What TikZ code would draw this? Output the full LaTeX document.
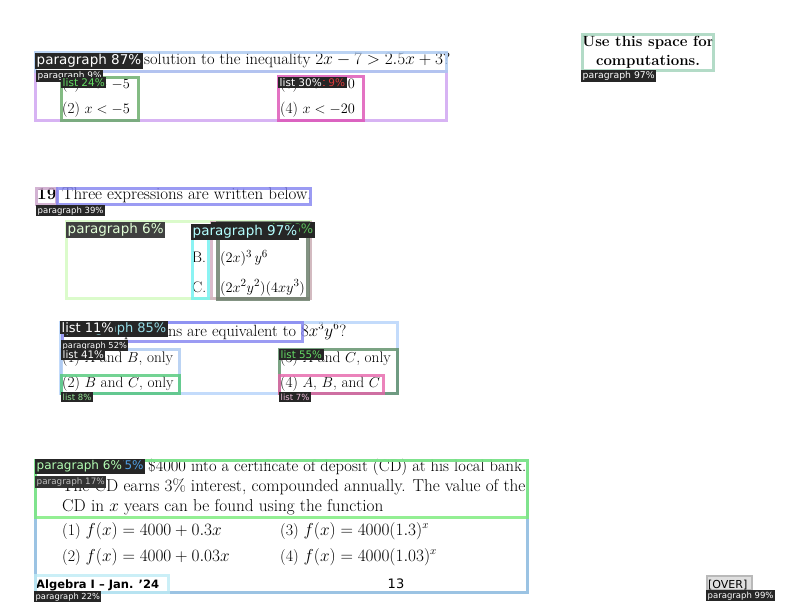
\documentclass[tikz,border=0pt]{standalone}
\usepackage{fontspec}
\newfontfamily\lab{DejaVu Sans}
\definecolor{cLblue}{RGB}{170,200,240}
\definecolor{cPurple}{RGB}{205,160,240}
\definecolor{cGreenA}{RGB}{100,170,100}
\definecolor{cPink}{RGB}{220,80,180}
\definecolor{cSea}{RGB}{160,210,185}
\definecolor{cMauve}{RGB}{200,160,200}
\definecolor{cViolet}{RGB}{130,130,240}
\definecolor{cPale}{RGB}{210,250,190}
\definecolor{cCyan}{RGB}{110,240,240}
\definecolor{cRose}{RGB}{210,170,190}
\definecolor{cDark}{RGB}{100,120,100}
\definecolor{cSky}{RGB}{180,210,250}
\definecolor{cGreenB}{RGB}{80,200,120}
\definecolor{cGreenC}{RGB}{90,140,100}
\definecolor{cPinkB}{RGB}{230,100,170}
\definecolor{cGreenD}{RGB}{120,235,120}
\definecolor{cSteel}{RGB}{130,180,220}
\definecolor{cIce}{RGB}{190,235,245}
\definecolor{tGreen}{RGB}{100,220,100}
\definecolor{tRed}{RGB}{220,60,60}
\definecolor{tPale}{RGB}{225,255,215}
\definecolor{tCyan}{RGB}{180,255,255}
\definecolor{tGreenDim}{RGB}{90,190,90}
\definecolor{tCyanB}{RGB}{150,220,230}
\definecolor{tGreenL}{RGB}{150,230,150}
\definecolor{tPink}{RGB}{240,190,220}
\definecolor{tLime}{RGB}{180,255,180}
\definecolor{tBlue}{RGB}{80,160,230}
\definecolor{tGray}{RGB}{190,190,190}
\tikzset{
  txt/.style={anchor=base west, inner sep=0pt, font=\fontsize{17}{20}\selectfont},
  opt/.style={anchor=base west, inner sep=0pt, font=\fontsize{15.3}{18}\selectfont},
  fopt/.style={anchor=base west, inner sep=0pt, font=\fontsize{16}{19}\selectfont},
  box/.style={draw=#1, line width=3pt, draw opacity=0.8},
  lbl/.style={anchor=north west, fill=black!85, inner xsep=1.5pt, inner ysep=1.5pt,
    font=\lab\fontsize{#1}{#1}\selectfont, text=white},
}
\begin{document}
\begin{tikzpicture}[x=1pt,y=-1pt]
\useasboundingbox[fill=white] (0,0) rectangle (792,612);

% ---------- texts ----------
\node[txt, font=\fontsize{16.5}{20}\selectfont] (q18) at (144,65) {solution to the inequality $2x - 7 > 2.5x + 3$?};
\node[opt] (q18a) at (62,89) {(1) $x > -5$};
\node[opt] (q18b) at (62,114) {(2) $x < -5$};
\node[opt] (q18c) at (280,89) {(3) $x > -20$};
\node[opt] (q18d) at (280,114) {(4) $x < -20$};

\node[anchor=base, inner sep=0pt, font=\bfseries\fontsize{15}{18}\selectfont] (use1) at (648,47) {Use this space for};
\node[anchor=base, inner sep=0pt, font=\bfseries\fontsize{15}{18}\selectfont] (use2) at (648,66) {computations.};

\node[txt] (n19) at (37,200) {\textbf{19}};
\node[txt] (q19) at (62,200) {Three expressions are written below.};
\node[opt] (b19) at (192,263) {B.};
\node[opt] (eb) at (220,263) {$(2x)^3\,y^6$};
\node[opt] (c19) at (192,292) {C.};
\node[opt] (ec) at (220,292) {$(2x^2y^2)(4xy^3)$};
\node[txt, font=\fontsize{16.3}{20}\selectfont] (q19q) at (62,336) {Which expressions are equivalent to $8x^3y^6$?};
\node[opt] (o1) at (62,362) {(1) $A$ and $B$, only};
\node[opt] (o2) at (62,387) {(2) $B$ and $C$, only};
\node[opt] (o3) at (280,362) {(3) $A$ and $C$, only};
\node[opt] (o4) at (280,387) {(4) $A$, $B$, and $C$};

\node[txt, font=\fontsize{16.5}{20}\selectfont] (p1) at (148,471) {\$4000 into a certificate of deposit (CD) at his local bank.};
\node[txt, font=\fontsize{17.2}{20}\selectfont] (p2) at (62,491) {The CD earns 3\% interest, compounded annually. The value of the};
\node[txt, font=\fontsize{17.2}{20}\selectfont] (p3) at (62,511) {CD in $x$ years can be found using the function};
\node[fopt] (f1) at (62,535) {(1) $f(x) = 4000 + 0.3x$};
\node[fopt] (f3) at (280,535) {(3) $f(x) = 4000(1.3)^x$};
\node[fopt] (f2) at (62,561) {(2) $f(x) = 4000 + 0.03x$};
\node[fopt] (f4) at (280,561) {(4) $f(x) = 4000(1.03)^x$};

\node[anchor=base west, inner sep=0pt, font=\lab\bfseries\fontsize{11.5}{13}\selectfont] (foot) at (36,588) {Algebra I – Jan. ’24};
\node[anchor=base, inner sep=0pt, font=\lab\fontsize{13}{14}\selectfont] (page) at (396,588) {13};
\draw[draw=gray!55, fill=gray!25, line width=1.5pt] (707,576) rectangle (752,590);
\node[anchor=base west, inner sep=0pt, font=\lab\fontsize{11}{12}\selectfont] (over) at (708,588) {[OVER]};

% ---------- boxes ----------
\draw[box=cPurple] (35,72) rectangle (446,121);
\draw[box=cLblue] (35,53) rectangle (446,72);
\draw[box=cGreenA] (61,78) rectangle (138,121);
\draw[box=cPink] (278,77) rectangle (363,121);
\draw[box=cSea] (582,35) rectangle (713,71);

\draw[box=cMauve] (36,189) rectangle (56,205);
\draw[box=cViolet] (57,189) rectangle (310,205);
\draw[box=cPale] (66,222) rectangle (310,298);
\draw[box=cCyan] (192,226) rectangle (208,298);
\draw[box=cRose] (211,223) rectangle (310,298);
\draw[box=cDark, line width=3.5pt] (218,223) rectangle (308,299);

\draw[box=cSky] (60,322) rectangle (397,393);
\draw[box=cViolet] (62,322) rectangle (302,341);
\draw[box=cLblue] (61,349) rectangle (179,393);
\draw[box=cGreenB] (61,375) rectangle (179,393);
\draw[box=cGreenC] (279,349) rectangle (397,393);
\draw[box=cPinkB] (279,375) rectangle (383,393);

\draw[box=cSteel] (35,460) rectangle (527,592);
\draw[box=cGreenD] (35,460) rectangle (527,517);
\draw[box=cIce] (35,575) rectangle (168,592);

% ---------- labels ----------
\node[lbl=13.5] (l1) at (35,53) {paragraph 87\%};
\node[lbl=9] (l2) at (36,70) {paragraph 9\%};
\node[lbl=10.5, text=tGreen] (l3) at (61,77) {list 24\%};
\node[lbl=10.5, text=tRed] (l4) at (308,77) {list 9\%};
\node[lbl=10.5] (l5) at (278,77) {list 30\%};
\node[lbl=9.3] (l6) at (581,70) {paragraph 97\%};

\node[lbl=8.5] (l7) at (36,205) {paragraph 39\%};
\node[lbl=13.5, text=tPale, fill=black!75] (l8) at (66,222) {paragraph 6\%};
\node[lbl=13, text=tGreenDim] (l9) at (211,222) {paragraph 76\%};
\node[lbl=13.5, text=tCyan] (l10) at (191,224) {paragraph 97\%};

\node[lbl=13, text=tCyanB] (l11) at (64,321) {paragraph 85\%};
\node[lbl=13] (l12) at (60,321) {list 11\%};
\node[lbl=8.3] (l13) at (61,340) {paragraph 52\%};
\node[lbl=10.3] (l14) at (61,349) {list 41\%};
\node[lbl=8.5, text=tGreenL] (l15) at (61,392) {list 8\%};
\node[lbl=10.3, text=tGreen] (l16) at (279,349) {list 55\%};
\node[lbl=8.5, text=tPink] (l17) at (279,392) {list 7\%};

\node[lbl=12, text=tBlue] (l18) at (49,459) {paragraph 75\%};
\node[lbl=12, text=tLime] (l19) at (35,459) {paragraph 6\%};
\node[lbl=8.8, text=tGray, fill=black!80] (l20) at (35,476) {paragraph 17\%};
\node[lbl=8.3] (l21) at (34,591) {paragraph 22\%};
\node[lbl=8.5] (l22) at (706,590) {paragraph 99\%};
\end{tikzpicture}
\end{document}
